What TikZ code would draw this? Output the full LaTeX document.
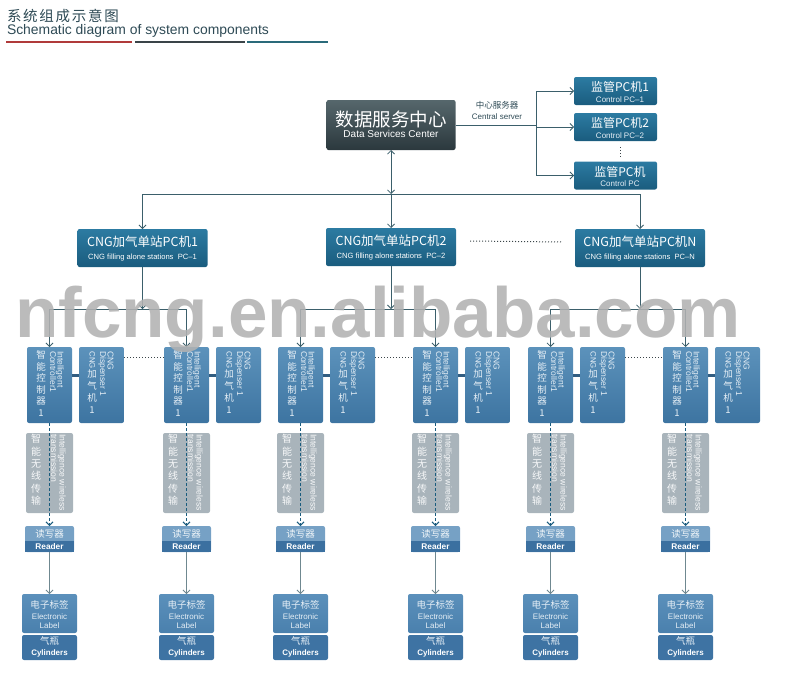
\documentclass[tikz,border=0pt]{standalone}
\usepackage{fontspec}
\setmainfont{Liberation Sans}
\newfontfamily\cjk{Noto Sans CJK SC}
\newfontfamily\cjkls[LetterSpace=12]{Noto Sans CJK SC}
\usetikzlibrary{arrows.meta,calc}
\definecolor{linec}{HTML}{3B5F6B}
\definecolor{lineg}{HTML}{6F8890}
\definecolor{stTop}{HTML}{2C7BA2}
\definecolor{stBot}{HTML}{1A5C7E}
\definecolor{dsTop}{HTML}{56676C}
\definecolor{dsBot}{HTML}{2B383D}
\definecolor{ctTop}{HTML}{5C92BB}
\definecolor{ctBot}{HTML}{3D74A1}
\definecolor{wlGray}{HTML}{A9B4BB}
\definecolor{rdLight}{HTML}{76A1C5}
\definecolor{rdDark}{HTML}{3B70A0}
\definecolor{lbTop}{HTML}{5B90BB}
\definecolor{lbBot}{HTML}{4A80AD}
\definecolor{txtLight}{HTML}{E6EFF6}
\definecolor{hdRed}{HTML}{B03A3A}
\definecolor{hdDark}{HTML}{3A4448}
\definecolor{hdTeal}{HTML}{2A6A7A}
\definecolor{hdText}{HTML}{2E4A55}
\definecolor{wmGray}{HTML}{B2B2B2}
\begin{document}
\begin{tikzpicture}[x=1pt,y=-1pt,
  every node/.style={inner sep=0pt, outer sep=0pt},
  ln/.style={draw=linec, line width=0.8pt},
  arr/.style={draw=linec, line width=0.8pt, -{Straight Barb[length=3.5pt,width=7pt]}},
  dblarr/.style={draw=linec, line width=0.8pt, {Straight Barb[length=3.5pt,width=7pt]}-{Straight Barb[length=3.5pt,width=7pt]}},
  arrg/.style={draw=lineg, line width=0.8pt, -{Straight Barb[length=3.5pt,width=7pt]}},
  dasharr/.style={draw=stBot, line width=1pt, dash pattern=on 3pt off 2pt, -{Straight Barb[length=3.5pt,width=7pt]}},
  dotln/.style={draw=hdDark, line width=1pt, dash pattern=on 1pt off 2pt},
  bar/.style={draw=ctBot!80!black, line width=3pt},
  stbox/.style={rounded corners=2pt, top color=stTop, bottom color=stBot, minimum width=130pt, minimum height=38pt, text=white, align=center},
  pcbox/.style={rounded corners=2pt, top color=stTop, bottom color=stBot, minimum width=83pt, minimum height=28pt, text=white, align=center},
  dsbox/.style={rounded corners=2pt, top color=dsTop, bottom color=dsBot, minimum width=129pt, minimum height=50pt, text=white, align=center},
  ctrlbox/.style={rounded corners=2pt, top color=ctTop, bottom color=ctBot, minimum width=45pt, minimum height=76pt},
  wlbox/.style={rounded corners=2pt, fill=wlGray, minimum width=47pt, minimum height=80pt},
  rdbox/.style={rounded corners=2pt, fill=rdLight, minimum width=49pt, minimum height=26pt},
  lbbox/.style={rounded corners=2pt, top color=lbTop, bottom color=lbBot, minimum width=55pt, minimum height=39pt},
  cybox/.style={rounded corners=2pt, fill=rdDark!90!lbTop, minimum width=55pt, minimum height=25pt},
  rot/.style={rotate=-90, anchor=west, text=txtLight, font=\fontsize{8.5}{9}\selectfont, text height=5.4pt, text depth=0.8pt},
  cjkcol/.style={anchor=north, align=center, text=txtLight},
  smalltxt/.style={text=txtLight}
]
\useasboundingbox (0,0) rectangle (800,675);

% ---------- header ----------
\node[anchor=west, text=hdText, font=\cjkls\fontsize{14.5}{16}\selectfont] (title) at (7,15.5) {系统组成示意图};
\node[anchor=west, text=hdText, font=\fontsize{13.9}{15}\selectfont] (subtitle) at (7,31) {Schematic diagram of system components};
\coordinate (h0) at (6,42);
\coordinate (h1) at (132,42);
\coordinate (h2) at (135,42);
\coordinate (h3) at (245,42);
\coordinate (h4) at (247,42);
\coordinate (h5) at (328,42);
\draw[hdRed, line width=2.2pt] (h0) -- (h1);
\draw[hdDark, line width=2.2pt] (h2) -- (h3);
\draw[hdTeal, line width=2.2pt] (h4) -- (h5);

% ---------- data services center ----------
\node[dsbox] (dsc) at (391,125) {};
\node[text=white, font=\cjk\fontsize{18.5}{20}\selectfont] (dsct) at (391,119) {数据服务中心};
\node[text=white, font=\fontsize{10}{11}\selectfont] (dsce) at (391,134) {Data Services Center};

% ---------- control PCs ----------
\node[pcbox] (p1) at (615.5,91) {};
\node[pcbox] (p2) at (615.5,127) {};
\node[pcbox] (p3) at (615.5,175.5) {};
\node[text=white, font=\cjk\fontsize{12}{13}\selectfont] (p1a) at (620,87) {监管PC机1};
\node[text=txtLight, font=\fontsize{8}{9}\selectfont] (p1b) at (620,99.5) {Control PC–1};
\node[text=white, font=\cjk\fontsize{12}{13}\selectfont] (p2a) at (620,123) {监管PC机2};
\node[text=txtLight, font=\fontsize{8}{9}\selectfont] (p2b) at (620,135.5) {Control PC–2};
\node[text=white, font=\cjk\fontsize{12}{13}\selectfont] (p3a) at (620,171.5) {监管PC机};
\node[text=txtLight, font=\fontsize{8}{9}\selectfont] (p3b) at (620,184) {Control PC};
\draw[dotln] ([xshift=4.5pt,yshift=-6pt]p2.south) -- ([xshift=4.5pt,yshift=4pt]p3.north);

\node[text=hdText, font=\cjk\fontsize{8.5}{9}\selectfont] (csz) at (497,105.5) {中心服务器};
\node[text=hdText, font=\fontsize{8}{9}\selectfont] (cse) at (497,116.5) {Central server};

\coordinate (jn) at (536,125);
\coordinate (jt) at (536,91);
\coordinate (jb) at (536,175.5);
\draw[ln] (dsc.east) -- (jn);
\draw[ln] (jt) -- (jb);
\draw[arr] (jt) -- (p1.west);
\draw[arr] (jt |- p2) -- (p2.west);
\draw[arr] (jb) -- (p3.west);

% ---------- station PCs ----------
\node[stbox] (s1) at (142.5,248) {};
\node[stbox] (s2) at (391,247) {};
\node[stbox] (s3) at (640,248) {};
\foreach \s/\n/\lab in {s1/1/1,s2/2/2,s3/N/N}{
  \node[text=white, font=\cjk\fontsize{12.5}{14}\selectfont] (\s a) at ([yshift=6pt]\s.center) {CNG加气单站PC机\n};
  \node[text=white, font=\fontsize{7.6}{9}\selectfont] (\s b) at ([yshift=-9.5pt]\s.center) {CNG filling alone stations\ \ PC–\lab};
}
\draw[dotln] ([xshift=14pt,yshift=6pt]s2.east) -- ([xshift=-13pt,yshift=6pt]s3.west);

\coordinate (tb1) at (142.5,194);
\coordinate (tbm) at (391,194);
\coordinate (tb2) at (640,194);
\draw[ln] (tb1) -- (tb2);
\draw[dblarr] (dsc.south) -- (tbm);
\draw[arr] (tb1) -- (s1.north);
\draw[arr] (tbm) -- (s2.north);
\draw[arr] (tb2) -- (s3.north);

% ---------- groups ----------
\foreach \L/\i in {27/1,164/2,278/3,413/4,528/5,663/6}{
  \pgfmathsetmacro{\cx}{\L+22.5}
  \pgfmathsetmacro{\dx}{\L+74.5}
  \node[ctrlbox] (c\i) at (\cx,385) {};
  \node[ctrlbox] (d\i) at (\dx,385) {};
  \draw[bar] ([yshift=10pt]c\i.east) -- ([yshift=10pt]d\i.west);
  % controller text
  \node[cjkcol, font=\cjk\fontsize{9.5}{11.5}\selectfont] (cc\i) at (\L+14,350.5) {智\\能\\控\\制\\器\\1};
  \node[rot] (ci\i) at (\L+33,351) {Intelligent};
  \node[rot] (co\i) at (\L+25.5,351) {Controller1};
  % dispenser text
  \node[rot] (dn\i) at (\L+52+31,351) {CNG};
  \node[rot] (dd\i) at (\L+52+23.5,351) {Dispenser 1};
  \node[rot, font=\fontsize{7.8}{8}\selectfont] (dg\i) at (\L+52+13,351.5) {CNG};
  \node[cjkcol, font=\cjk\fontsize{9.5}{12}\selectfont] (dj\i) at (\L+52+13,370) {加\\气\\机\\1};
  % wireless
  \node[wlbox] (w\i) at (\cx,473) {};
  \node[cjkcol, font=\cjk\fontsize{10}{12.3}\selectfont, text=white!92!wlGray] (wc\i) at (\L+9,434.5) {智\\能\\无\\线\\传\\输};
  \node[rot, text=white!92!wlGray, font=\fontsize{8.6}{9}\selectfont] (wi\i) at (\L+35,434) {Intelligence wireless};
  \node[rot, text=white!92!wlGray, font=\fontsize{8.6}{9}\selectfont] (wt\i) at (\L+26.5,434) {transmission};
  % reader
  \node[rdbox] (r\i) at (\cx,539) {};
  \fill[rdDark] ([yshift=11pt]r\i.south west) rectangle (r\i.south east);
  \node[text=white!90!rdLight, font=\cjk\fontsize{9.5}{10}\selectfont] (rt\i) at (\cx,533.5) {读写器};
  \node[text=white, font=\bfseries\fontsize{8.3}{9}\selectfont] (rr\i) at (\cx,546.5) {Reader};
  % label and cylinders
  \node[lbbox] (lab\i) at (\cx,613.5) {};
  \node[cybox] (cy\i) at (\cx,647.5) {};
  \node[smalltxt, font=\cjk\fontsize{9.5}{10}\selectfont] (lt\i) at (\cx,604.5) {电子标签};
  \node[smalltxt, font=\fontsize{8}{9}\selectfont] (le\i) at (\cx,616.5) {Electronic};
  \node[smalltxt, font=\fontsize{8}{9}\selectfont] (ll\i) at (\cx,625.5) {Label};
  \node[smalltxt, font=\cjk\fontsize{9.5}{10}\selectfont] (ct\i) at (\cx,641) {气瓶};
  \node[text=white, font=\bfseries\fontsize{8}{9}\selectfont] (cn\i) at (\cx,653) {Cylinders};
  % arrows
  \draw[dasharr] (c\i.south) -- (r\i.north);
  \draw[arrg] (r\i.south) -- (lab\i.north);
}

% dotted links between groups
\foreach \a/\b in {1/2,3/4,5/6}{
  \draw[dotln] ([yshift=28pt]d\a.east) -- ([yshift=28pt]c\b.west);
}

% station -> controllers
\foreach \s/\a/\b in {s1/1/2,s2/3/4,s3/5/6}{
  \coordinate (bus\s) at (\s.south |- 0,309);
  \draw[arr] (\s.south) -- (bus\s);
  \draw[ln] (c\a.north |- bus\s) -- (c\b.north |- bus\s);
  \draw[arr] (c\a.north |- bus\s) -- (c\a.north);
  \draw[arr] (c\b.north |- bus\s) -- (c\b.north);
}

% watermark
\node[anchor=base west, text=wmGray, opacity=0.88, font=\bfseries\fontsize{71}{71}\selectfont] (wm) at (15,337) {nfcng.en.alibaba.com};
\end{tikzpicture}
\end{document}
